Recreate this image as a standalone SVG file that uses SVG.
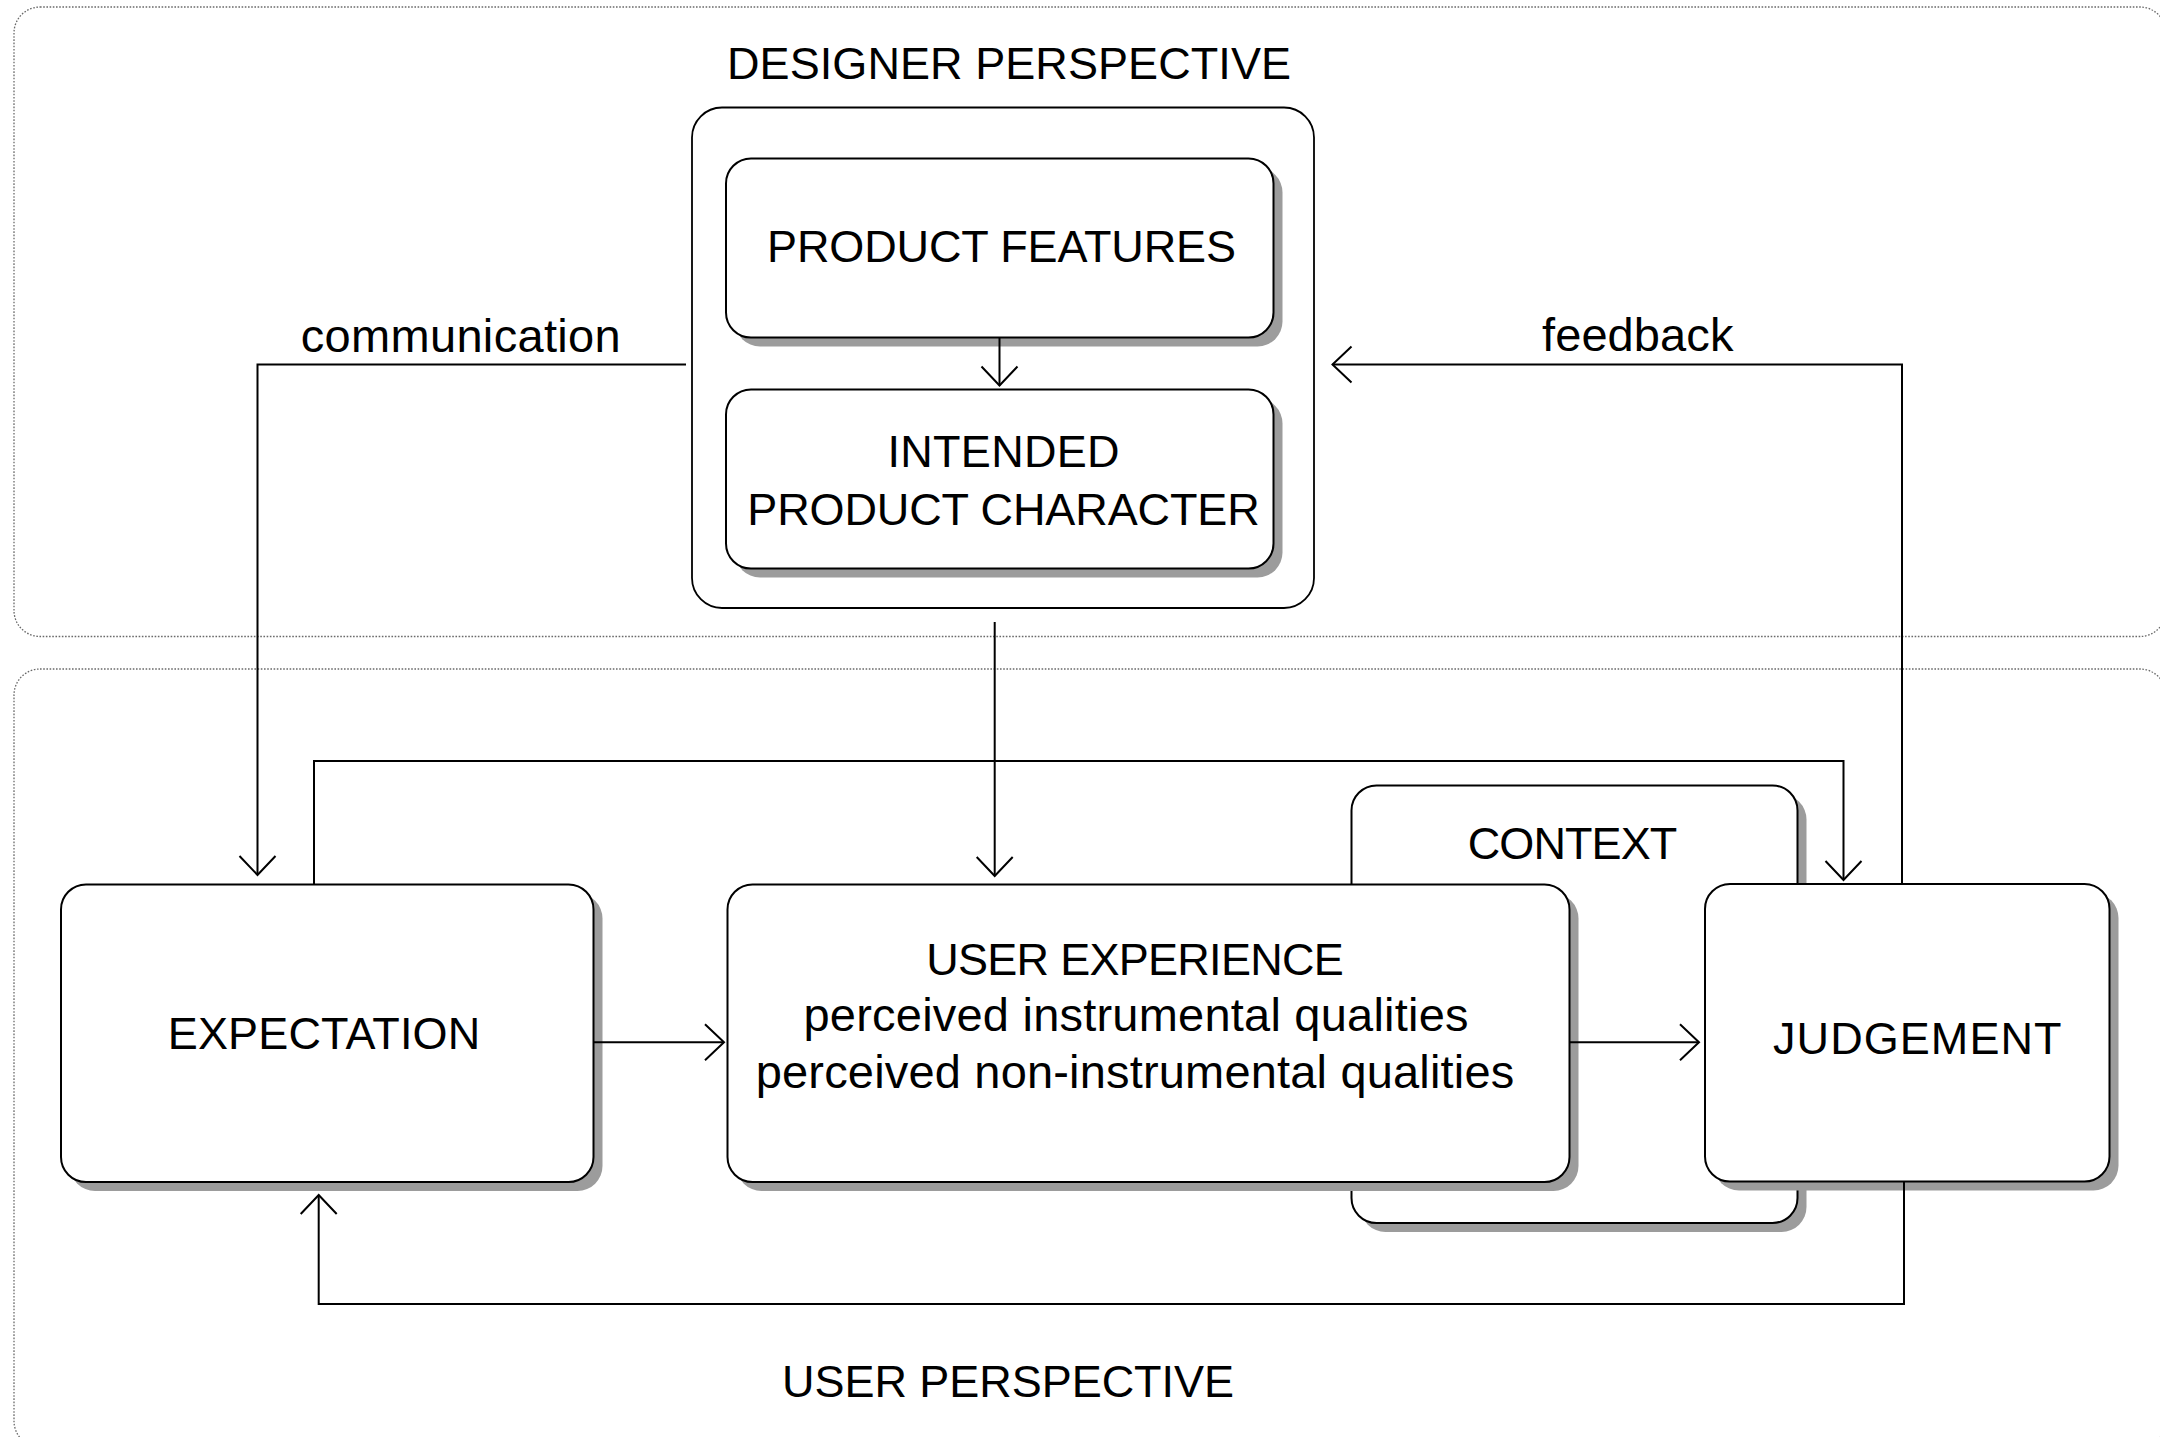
<svg xmlns="http://www.w3.org/2000/svg" width="2160" height="1437" viewBox="0 0 2160 1437">
  <defs>
    <style>
      .zone { fill: none; stroke: #6a6a6a; stroke-width: 1.3; stroke-dasharray: 1.6 1.6; }
      .box { fill: #ffffff; stroke: #000000; stroke-width: 2; }
      .shadow { fill: #9c9c9c; stroke: none; }
      .frame { fill: #ffffff; stroke: #000000; stroke-width: 1.8; }
      .wire { fill: none; stroke: #000000; stroke-width: 2; }
      .arrow { fill: none; stroke: #000000; stroke-width: 2; marker-end: url(#chevron); }
      text { font-family: "Liberation Sans", Arial, sans-serif; fill: #000000; text-anchor: middle; }
      .caps { font-size: 45px; }
      .lower { font-size: 47px; }
      .title { font-size: 45px; }
    </style>
    <marker id="chevron" markerUnits="userSpaceOnUse" viewBox="-24 -24 48 48" markerWidth="48" markerHeight="48" refX="0" refY="0" orient="auto" overflow="visible">
      <path d="M-19,-18 L0,0 L-19,18" fill="none" stroke="#000000" stroke-width="2"/>
    </marker>
  </defs>

  <rect width="2160" height="1437" fill="#ffffff"/>

  <!-- dotted perspective zones -->
  <g id="designer-zone">
    <rect class="zone" x="14" y="7" width="2152" height="629.5" rx="26" ry="26"/>
    <text class="title" x="1009" y="79" textLength="564" lengthAdjust="spacing">DESIGNER PERSPECTIVE</text>
  </g>
  <g id="user-zone">
    <rect class="zone" x="14" y="669" width="2152" height="778" rx="26" ry="26"/>
    <text class="title" x="1008" y="1396.5" textLength="452" lengthAdjust="spacing">USER PERSPECTIVE</text>
  </g>

  <!-- designer container with its two stacked nodes -->
  <g id="designer-frame">
    <rect class="frame" x="692" y="107.5" width="622" height="500.5" rx="30" ry="30"/>
  </g>
  <g id="product-features">
    <rect class="shadow" x="735" y="167.5" width="547.5" height="179" rx="25" ry="25"/>
    <rect class="box" x="726" y="158.5" width="547.5" height="179" rx="25" ry="25"/>
    <text class="caps" x="1001.5" y="262.3" textLength="469" lengthAdjust="spacing">PRODUCT FEATURES</text>
  </g>
  <g id="intended-character">
    <rect class="shadow" x="735" y="398.5" width="547.5" height="179" rx="25" ry="25"/>
    <rect class="box" x="726" y="389.5" width="547.5" height="179" rx="25" ry="25"/>
    <text class="caps" x="1003.5" y="467" textLength="232" lengthAdjust="spacing">INTENDED</text>
    <text class="caps" x="1003.5" y="524.6" textLength="512.5" lengthAdjust="spacing">PRODUCT CHARACTER</text>
  </g>

  <!-- user side nodes -->
  <g id="context">
    <rect class="shadow" x="1360.5" y="794.5" width="446" height="437.5" rx="25" ry="25"/>
    <rect class="box" x="1351.5" y="785.5" width="446" height="437.5" rx="25" ry="25"/>
    <text class="caps" x="1572.5" y="859.3" textLength="209.5" lengthAdjust="spacing">CONTEXT</text>
  </g>
  <g id="expectation">
    <rect class="shadow" x="70" y="893.5" width="532.5" height="297.5" rx="25" ry="25"/>
    <rect class="box" x="61" y="884.5" width="532.5" height="297.5" rx="25" ry="25"/>
    <text class="caps" x="324" y="1049.3" textLength="312.5" lengthAdjust="spacing">EXPECTATION</text>
  </g>
  <g id="user-experience">
    <rect class="shadow" x="736.5" y="893.5" width="842" height="297.5" rx="25" ry="25"/>
    <rect class="box" x="727.5" y="884.5" width="842" height="297.5" rx="25" ry="25"/>
    <text class="caps" x="1135" y="975" textLength="417.5" lengthAdjust="spacing">USER EXPERIENCE</text>
    <text class="lower" x="1136" y="1031" textLength="665" lengthAdjust="spacing">perceived instrumental qualities</text>
    <text class="lower" x="1135" y="1088.3" textLength="758.5" lengthAdjust="spacing">perceived non-instrumental qualities</text>
  </g>
  <g id="judgement">
    <rect class="shadow" x="1714" y="893" width="404.5" height="297.5" rx="25" ry="25"/>
    <rect class="box" x="1705" y="884" width="404.5" height="297.5" rx="25" ry="25"/>
    <text class="caps" x="1917.3" y="1054" textLength="288.5" lengthAdjust="spacing">JUDGEMENT</text>
  </g>

  <!-- connectors -->
  <g id="connectors">
    <!-- product features to intended character -->
    <path class="arrow" d="M999.5,337.5 L999.5,385.5"/>
    <!-- communication: designer to expectation -->
    <path class="arrow" d="M686,364.5 L257.5,364.5 L257.5,875"/>
    <!-- feedback: judgement to designer -->
    <path class="arrow" d="M1902,884 L1902,364.5 L1332.5,364.5"/>
    <!-- designer to user experience -->
    <path class="arrow" d="M994.7,622 L994.7,876"/>
    <!-- expectation to judgement over the top -->
    <path class="arrow" d="M314,884.5 L314,761 L1843.5,761 L1843.5,880"/>
    <!-- expectation to user experience -->
    <path class="arrow" d="M593.5,1042.3 L724,1042.3"/>
    <!-- user experience to judgement -->
    <path class="arrow" d="M1569.5,1042.3 L1699,1042.3"/>
    <!-- judgement back to expectation -->
    <path class="arrow" d="M1904,1181.5 L1904,1304 L318.7,1304 L318.7,1195"/>
  </g>

  <!-- connector labels -->
  <g id="labels">
    <text class="lower" x="460.7" y="352.3" textLength="320" lengthAdjust="spacing">communication</text>
    <text class="lower" x="1637.7" y="351" textLength="191.4" lengthAdjust="spacing">feedback</text>
  </g>
</svg>
